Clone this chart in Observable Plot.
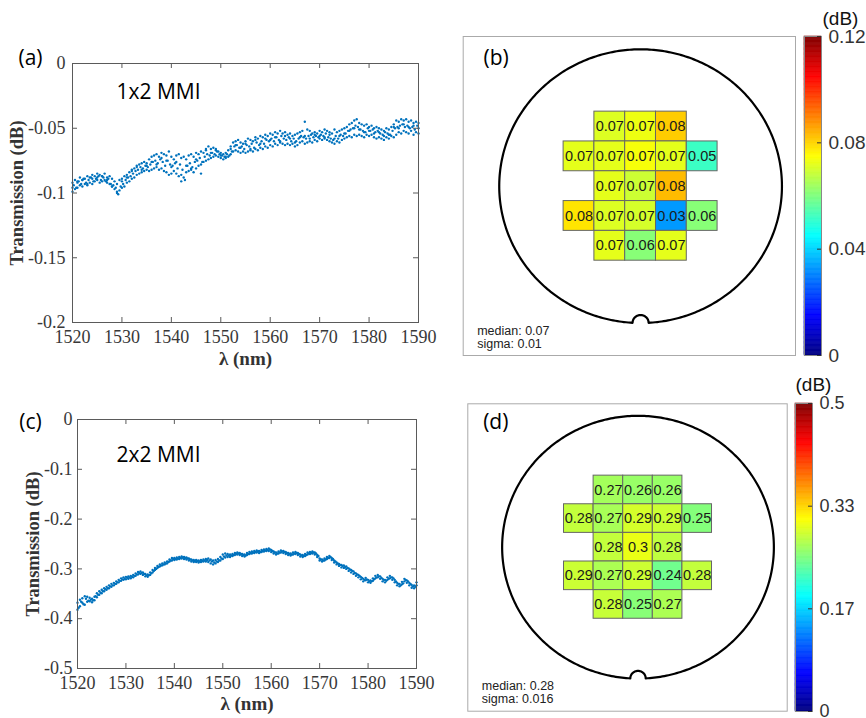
<!DOCTYPE html>
<html><head><meta charset="utf-8">
<script src="https://cdn.jsdelivr.net/npm/d3@7"></script>
<script src="https://cdn.jsdelivr.net/npm/@observablehq/plot@0.6"></script>
<style>
body{margin:0;background:#fff;}
#root{position:relative;width:866px;height:718px;overflow:hidden;background:#fff;}
</style></head><body><div id="root"></div>
<script>
// ---------- DATA ----------
const lambdaTicks = [1520, 1530, 1540, 1550, 1560, 1570, 1580, 1590];
const yTicksA = [0, -0.05, -0.1, -0.15, -0.2];
const yTicksC = [0, -0.1, -0.2, -0.3, -0.4, -0.5];

// (a) 1x2 MMI, two sweeps sampled every 0.5 nm from 1520 to 1590 nm
const mmi12Upper = [
-0.092,-0.090,-0.091,-0.088,-0.090,-0.089,-0.087,-0.088,-0.086,-0.087,
-0.085,-0.086,-0.087,-0.085,-0.088,-0.087,-0.089,-0.091,-0.093,-0.090,
-0.091,-0.087,-0.086,-0.084,-0.082,-0.081,-0.079,-0.078,-0.077,-0.076,
-0.077,-0.074,-0.072,-0.071,-0.070,-0.072,-0.069,-0.070,-0.071,-0.068,
-0.072,-0.074,-0.071,-0.070,-0.073,-0.072,-0.074,-0.071,-0.070,-0.072,
-0.069,-0.070,-0.068,-0.069,-0.066,-0.064,-0.066,-0.065,-0.067,-0.068,
-0.069,-0.070,-0.069,-0.067,-0.064,-0.061,-0.060,-0.059,-0.061,-0.062,
-0.060,-0.058,-0.059,-0.060,-0.057,-0.058,-0.056,-0.057,-0.055,-0.056,
-0.054,-0.055,-0.053,-0.054,-0.052,-0.054,-0.053,-0.055,-0.054,-0.056,
-0.055,-0.054,-0.053,-0.052,-0.045,-0.051,-0.052,-0.054,-0.053,-0.054,
-0.052,-0.053,-0.051,-0.052,-0.053,-0.054,-0.051,-0.053,-0.052,-0.051,
-0.050,-0.049,-0.047,-0.046,-0.044,-0.043,-0.046,-0.047,-0.048,-0.047,
-0.049,-0.048,-0.050,-0.049,-0.050,-0.051,-0.052,-0.050,-0.051,-0.049,
-0.047,-0.044,-0.045,-0.043,-0.044,-0.043,-0.045,-0.044,-0.046,-0.045,
-0.046];
const mmi12Lower = [
-0.099,-0.097,-0.096,-0.094,-0.095,-0.093,-0.094,-0.092,-0.093,-0.091,
-0.090,-0.092,-0.091,-0.090,-0.092,-0.093,-0.095,-0.097,-0.099,-0.098,
-0.096,-0.095,-0.092,-0.091,-0.089,-0.088,-0.086,-0.085,-0.084,-0.083,
-0.082,-0.083,-0.082,-0.081,-0.080,-0.082,-0.081,-0.083,-0.084,-0.086,
-0.085,-0.083,-0.085,-0.087,-0.086,-0.088,-0.084,-0.083,-0.082,-0.084,
-0.081,-0.079,-0.078,-0.076,-0.075,-0.074,-0.073,-0.072,-0.071,-0.072,
-0.073,-0.074,-0.073,-0.072,-0.070,-0.068,-0.067,-0.068,-0.069,-0.068,
-0.069,-0.068,-0.067,-0.068,-0.066,-0.067,-0.065,-0.066,-0.064,-0.065,
-0.063,-0.064,-0.062,-0.063,-0.061,-0.062,-0.063,-0.062,-0.063,-0.062,
-0.064,-0.063,-0.061,-0.060,-0.062,-0.061,-0.060,-0.061,-0.059,-0.060,
-0.058,-0.059,-0.058,-0.059,-0.060,-0.061,-0.062,-0.060,-0.061,-0.059,
-0.058,-0.057,-0.056,-0.057,-0.055,-0.056,-0.055,-0.056,-0.057,-0.055,
-0.056,-0.055,-0.057,-0.058,-0.057,-0.058,-0.059,-0.057,-0.058,-0.056,
-0.057,-0.055,-0.053,-0.054,-0.052,-0.053,-0.054,-0.052,-0.055,-0.053,
-0.054];
// (a) sweep sampled on the quarter points 1520.25 ... 1589.75 nm
const mmi12Quarter = [
-0.094,-0.096,-0.091,-0.093,-0.089,-0.092,-0.090,-0.088,-0.091,-0.089,
-0.087,-0.090,-0.088,-0.091,-0.089,-0.093,-0.094,-0.096,-0.101,-0.095,
-0.093,-0.090,-0.088,-0.087,-0.085,-0.083,-0.082,-0.080,-0.081,-0.079,
-0.080,-0.078,-0.076,-0.075,-0.077,-0.074,-0.076,-0.079,-0.075,-0.078,
-0.079,-0.077,-0.081,-0.078,-0.082,-0.090,-0.079,-0.077,-0.080,-0.076,
-0.075,-0.073,-0.076,-0.072,-0.070,-0.071,-0.069,-0.070,-0.068,-0.070,
-0.071,-0.072,-0.070,-0.071,-0.068,-0.064,-0.063,-0.065,-0.064,-0.066,
-0.063,-0.064,-0.062,-0.065,-0.061,-0.063,-0.060,-0.062,-0.059,-0.060,
-0.058,-0.060,-0.057,-0.059,-0.056,-0.058,-0.059,-0.057,-0.060,-0.058,
-0.060,-0.058,-0.056,-0.057,-0.058,-0.056,-0.055,-0.057,-0.056,-0.057,
-0.055,-0.056,-0.054,-0.057,-0.058,-0.059,-0.056,-0.058,-0.055,-0.056,
-0.054,-0.052,-0.051,-0.050,-0.048,-0.049,-0.051,-0.052,-0.053,-0.050,
-0.052,-0.051,-0.053,-0.052,-0.054,-0.055,-0.053,-0.054,-0.055,-0.052,
-0.050,-0.049,-0.048,-0.047,-0.049,-0.048,-0.050,-0.049,-0.051,-0.048];
// (a) third sweep, every 1 nm
const mmi12Mid = [
-0.096,-0.092,-0.090,-0.093,-0.089,-0.088,-0.087,-0.090,-0.095,-0.100,
-0.089,-0.088,-0.083,-0.080,-0.082,-0.079,-0.076,-0.078,-0.073,-0.075,
-0.080,-0.076,-0.091,-0.079,-0.081,-0.074,-0.085,-0.067,-0.069,-0.066,
-0.071,-0.072,-0.066,-0.063,-0.065,-0.062,-0.066,-0.059,-0.062,-0.058,
-0.059,-0.057,-0.060,-0.056,-0.058,-0.061,-0.057,-0.056,-0.058,-0.055,
-0.056,-0.057,-0.055,-0.058,-0.056,-0.054,-0.052,-0.050,-0.051,-0.053,
-0.052,-0.054,-0.053,-0.056,-0.055,-0.049,-0.050,-0.047,-0.049,-0.048,
-0.050];

// (c) 2x2 MMI, two sweeps sampled every 0.5 nm
const mmi22Upper = [
-0.368,-0.362,-0.359,-0.355,-0.356,-0.358,-0.360,-0.356,-0.349,-0.345,
-0.342,-0.339,-0.336,-0.333,-0.330,-0.328,-0.325,-0.322,-0.319,-0.317,
-0.316,-0.315,-0.314,-0.312,-0.309,-0.306,-0.305,-0.307,-0.310,-0.311,
-0.307,-0.302,-0.298,-0.294,-0.291,-0.289,-0.287,-0.285,-0.281,-0.278,
-0.278,-0.277,-0.276,-0.275,-0.276,-0.277,-0.279,-0.281,-0.282,-0.282,
-0.283,-0.282,-0.281,-0.280,-0.279,-0.281,-0.283,-0.282,-0.280,-0.276,
-0.271,-0.269,-0.270,-0.271,-0.270,-0.268,-0.267,-0.268,-0.270,-0.271,
-0.268,-0.266,-0.265,-0.264,-0.263,-0.264,-0.262,-0.261,-0.260,-0.259,
-0.262,-0.265,-0.267,-0.265,-0.263,-0.264,-0.266,-0.268,-0.269,-0.267,
-0.266,-0.268,-0.271,-0.272,-0.270,-0.267,-0.266,-0.265,-0.267,-0.272,
-0.279,-0.281,-0.279,-0.276,-0.274,-0.278,-0.283,-0.287,-0.290,-0.292,
-0.293,-0.295,-0.299,-0.302,-0.305,-0.309,-0.312,-0.316,-0.320,-0.318,
-0.322,-0.323,-0.319,-0.314,-0.312,-0.315,-0.320,-0.322,-0.317,-0.314,
-0.317,-0.322,-0.328,-0.330,-0.326,-0.320,-0.323,-0.328,-0.332,-0.333,
-0.327];
const mmi22Lower = [
-0.382,-0.375,-0.368,-0.372,-0.366,-0.365,-0.367,-0.363,-0.357,-0.352,
-0.349,-0.345,-0.342,-0.339,-0.336,-0.333,-0.330,-0.327,-0.324,-0.322,
-0.321,-0.320,-0.319,-0.317,-0.314,-0.311,-0.310,-0.312,-0.315,-0.316,
-0.312,-0.307,-0.302,-0.298,-0.295,-0.293,-0.291,-0.289,-0.285,-0.283,
-0.282,-0.281,-0.280,-0.279,-0.280,-0.281,-0.283,-0.285,-0.286,-0.286,
-0.287,-0.286,-0.285,-0.285,-0.286,-0.289,-0.291,-0.289,-0.286,-0.283,
-0.280,-0.277,-0.276,-0.276,-0.274,-0.272,-0.271,-0.272,-0.274,-0.275,
-0.272,-0.270,-0.269,-0.268,-0.267,-0.268,-0.266,-0.265,-0.264,-0.264,
-0.266,-0.269,-0.271,-0.269,-0.267,-0.268,-0.270,-0.272,-0.273,-0.271,
-0.270,-0.272,-0.275,-0.276,-0.274,-0.271,-0.270,-0.269,-0.271,-0.276,
-0.283,-0.285,-0.283,-0.280,-0.278,-0.282,-0.287,-0.291,-0.294,-0.297,
-0.298,-0.300,-0.304,-0.307,-0.310,-0.314,-0.317,-0.321,-0.325,-0.323,
-0.327,-0.328,-0.324,-0.319,-0.317,-0.320,-0.325,-0.327,-0.322,-0.319,
-0.322,-0.327,-0.333,-0.335,-0.331,-0.325,-0.328,-0.333,-0.338,-0.339,
-0.333];
// (c) sweep sampled on the quarter points 1520.25 ... 1589.75 nm
const mmi22Quarter = [
-0.378,-0.366,-0.371,-0.360,-0.364,-0.362,-0.363,-0.355,-0.352,-0.348,
-0.345,-0.341,-0.339,-0.335,-0.333,-0.330,-0.327,-0.324,-0.321,-0.320,
-0.318,-0.317,-0.316,-0.314,-0.311,-0.308,-0.308,-0.310,-0.313,-0.313,
-0.309,-0.304,-0.300,-0.296,-0.293,-0.291,-0.289,-0.286,-0.283,-0.280,
-0.280,-0.279,-0.278,-0.277,-0.278,-0.279,-0.281,-0.283,-0.284,-0.284,
-0.285,-0.284,-0.283,-0.282,-0.283,-0.285,-0.287,-0.285,-0.283,-0.279,
-0.275,-0.273,-0.273,-0.273,-0.272,-0.270,-0.269,-0.270,-0.272,-0.273,
-0.270,-0.268,-0.267,-0.266,-0.265,-0.266,-0.264,-0.263,-0.262,-0.261,
-0.264,-0.267,-0.269,-0.267,-0.265,-0.266,-0.268,-0.270,-0.271,-0.269,
-0.268,-0.270,-0.273,-0.274,-0.272,-0.269,-0.268,-0.267,-0.269,-0.274,
-0.281,-0.283,-0.281,-0.278,-0.276,-0.280,-0.285,-0.289,-0.292,-0.294,
-0.296,-0.298,-0.301,-0.304,-0.308,-0.311,-0.314,-0.318,-0.322,-0.321,
-0.325,-0.325,-0.321,-0.317,-0.315,-0.318,-0.322,-0.324,-0.320,-0.317,
-0.319,-0.325,-0.330,-0.333,-0.329,-0.322,-0.325,-0.330,-0.335,-0.336];

// wafer maps: die rows (top to bottom) and their die columns
const dieRowY = [2, 1, 0, -1, -2];
const dieRowCols = [[-1, 0, 1], [-2, -1, 0, 1, 2], [-1, 0, 1], [-2, -1, 0, 1, 2], [-1, 0, 1]];
const mapB = [
  [0.071, 0.073, 0.081],
  [0.072, 0.072, 0.074, 0.072, 0.052],
  [0.072, 0.069, 0.083],
  [0.078, 0.071, 0.070, 0.033, 0.061],
  [0.072, 0.061, 0.072]];
const mapD = [
  [0.268, 0.262, 0.262],
  [0.283, 0.270, 0.292, 0.287, 0.252],
  [0.283, 0.302, 0.281],
  [0.287, 0.272, 0.288, 0.243, 0.283],
  [0.285, 0.254, 0.272]];
const statsB = ["median: 0.07", "sigma: 0.01"];
const statsD = ["median: 0.28", "sigma: 0.016"];
const cbarTicksB = [0, 0.04, 0.08, 0.12];
const cbarTicksD = [0, 0.1667, 0.3333, 0.5];

// jet colormap stops
const jetStops = [0, 0.125, 0.375, 0.625, 0.875, 1];
const jetColors = ["#00007f", "#0000ff", "#00ffff", "#ffff00", "#ff0000", "#7f0000"];

// ---------- DRAWING ----------
const root = document.getElementById("root");
function place(node, left, top) {
  node.style.position = "absolute";
  node.style.left = left + "px";
  node.style.top = top + "px";
  root.appendChild(node);
}
const serif = "'Liberation Serif', 'DejaVu Serif', serif";
const sans = "'Liberation Sans', Arial, sans-serif";
const labelFont = "'Open Sans', 'Noto Sans', sans-serif";
const dotColor = "#0072BD";
const halfStep = (arr) => arr.map((v, i) => ({x: 1520 + 0.5 * i, y: v}));
const quarterStep = (arr) => arr.map((v, i) => ({x: 1520.25 + 0.5 * i, y: v}));
const oneStep = (arr) => arr.map((v, i) => ({x: 1520 + i, y: v}));

function spectrum(o) {
  const pw = o.width - o.ml - o.mr, ph = o.height - o.mt - o.mb;
  const ax = "#5a5a5a";
  return Plot.plot({
    width: o.width, height: o.height,
    marginTop: o.mt, marginRight: o.mr, marginBottom: o.mb, marginLeft: o.ml,
    x: {domain: [1520, 1590]}, y: {domain: o.yDomain},
    style: {fontFamily: serif, fontSize: "18px", color: "#383838", background: "white", overflow: "visible"},
    marks: [
      ...o.series.map(s => Plot.dot(s, {x: "x", y: "y", r: 1.2, fill: dotColor})),
      Plot.frame({stroke: ax}),
      Plot.tickX(lambdaTicks, {x: d => d, insetTop: ph - 5, stroke: ax}),
      Plot.tickX(lambdaTicks, {x: d => d, insetBottom: ph - 5, stroke: ax}),
      Plot.tickY(o.yTicks, {y: d => d, insetRight: pw - 5, stroke: ax}),
      Plot.tickY(o.yTicks, {y: d => d, insetLeft: pw - 5, stroke: ax}),
      Plot.axisX({ticks: lambdaTicks, tickSize: 0, tickPadding: 8, tickFormat: d => String(d), label: null}),
      Plot.axisY({ticks: o.yTicks, tickSize: 0, tickPadding: o.ypad, tickFormat: d => String(d), label: null}),
      Plot.text(["Transmission (dB)"], {frameAnchor: "left", dx: o.ylabDx, rotate: -90, textAnchor: "middle", lineAnchor: "middle", fontWeight: "bold", fontSize: 18.5, fill: "#333"}),
      Plot.text(["λ (nm)"], {frameAnchor: "bottom", dy: o.xlabDy, textAnchor: "middle", lineAnchor: "middle", fontWeight: "bold", fontSize: 19, fill: "#333"}),
      Plot.text([o.panel], {frameAnchor: "top-left", dx: o.panelDx, dy: o.panelDy, textAnchor: "middle", lineAnchor: "middle", fontFamily: labelFont, fontSize: 21, fill: "#000"}),
      Plot.text([o.name], {frameAnchor: "top-left", dx: o.nameDx, dy: o.nameDy, textAnchor: "start", lineAnchor: "middle", fontFamily: labelFont, fontSize: 21, fill: "#000"})
    ]
  });
}

function jet(max) {
  return {type: "linear", domain: jetStops.map(t => t * max), range: jetColors, interpolate: "rgb"};
}

function waferOutline(R, r) {
  const a = Math.asin(r / R);
  const pts = [];
  const n = 400;
  for (let i = 0; i <= n; i++) {
    const t = -Math.PI / 2 + a + (2 * Math.PI - 2 * a) * i / n;
    pts.push({x: R * Math.cos(t), y: R * Math.sin(t)});
  }
  for (let i = 0; i <= 30; i++) {
    const p = Math.PI - Math.PI * i / 30;
    pts.push({x: r * Math.cos(p), y: -R * Math.cos(a) + r * Math.sin(p)});
  }
  pts.push(pts[0]);
  return pts;
}

function waferMap(o) {
  const cells = [];
  dieRowCols.forEach((cols, r) => cols.forEach((c, j) => cells.push({col: c, row: dieRowY[r], v: o.values[r][j]})));
  return Plot.plot({
    width: o.width, height: o.height,
    marginTop: o.mt, marginRight: o.mr, marginBottom: o.mb, marginLeft: o.ml,
    x: {domain: o.xDomain, axis: null}, y: {domain: o.yDomain, axis: null},
    color: jet(o.max),
    style: {fontFamily: sans, fontSize: "14px", color: "#222", background: "white", overflow: "visible"},
    marks: [
      Plot.frame({stroke: "#aaaaaa"}),
      Plot.line(waferOutline(4.59, 0.26), {x: "x", y: "y", stroke: "#000", strokeWidth: 2.2}),
      Plot.rect(cells, {x1: d => d.col - 0.5, x2: d => d.col + 0.5, y1: d => d.row - 0.5, y2: d => d.row + 0.5, fill: "v", stroke: "#666", strokeWidth: 1}),
      Plot.text(cells, {x: "col", y: "row", text: d => String(+d.v.toFixed(2)), fontSize: 14.5, fill: "#1a1a1a"}),
      Plot.text([o.panel], {frameAnchor: "top-left", dx: o.panelDx, dy: o.panelDy, textAnchor: "middle", lineAnchor: "middle", fontFamily: labelFont, fontSize: 21, fill: "#000"}),
      Plot.text([o.stats[0]], {frameAnchor: "bottom-left", dx: o.statsDx, dy: -25, textAnchor: "start", lineAnchor: "middle", fontSize: 12.5, fill: "#222"}),
      Plot.text([o.stats[1]], {frameAnchor: "bottom-left", dx: o.statsDx, dy: -12, textAnchor: "start", lineAnchor: "middle", fontSize: 12.5, fill: "#222"})
    ]
  });
}

function colorbar(o) {
  const N = 256;
  const steps = d3.range(N).map(i => ({y1: i * o.max / N, y2: (i + 1) * o.max / N, v: (i + 0.5) * o.max / N}));
  const bw = o.width - o.ml - o.mr;
  return Plot.plot({
    width: o.width, height: o.height,
    marginTop: o.mt, marginRight: o.mr, marginBottom: o.mb, marginLeft: o.ml,
    x: {domain: [0, 1], axis: null}, y: {domain: [0, o.max], axis: null},
    color: jet(o.max),
    style: {fontFamily: sans, fontSize: o.fontSize + "px", color: "#333", background: "transparent", overflow: "visible"},
    marks: [
      Plot.rect(steps, {x1: d => 0, x2: d => 1, y1: "y1", y2: "y2", fill: "v", stroke: "v", strokeWidth: 0.6}),
      Plot.frame({stroke: "#888"}),
      Plot.tickY(o.ticks, {y: d => d, insetLeft: bw - 4, stroke: "#333"}),
      Plot.axisY({anchor: "right", ticks: o.ticks, tickSize: 0, tickPadding: 7, tickFormat: d3.format(".2~f"), label: null, fontSize: o.fontSize}),
      Plot.text(["(dB)"], {frameAnchor: "top-left", dx: o.unitDx, dy: o.unitDy, textAnchor: "start", lineAnchor: "middle", fontSize: 19, fill: "#111"})
    ]
  });
}

// (a)
place(spectrum({
  width: 440, height: 340, mt: 33, mr: 22, mb: 48, ml: 72,
  yDomain: [-0.2, 0], yTicks: yTicksA, ypad: 7,
  series: [halfStep(mmi12Upper), halfStep(mmi12Lower), quarterStep(mmi12Quarter), oneStep(mmi12Mid)],
  panel: "(a)", panelDx: -42, panelDy: -5,
  name: "1x2 MMI", nameDx: 44, nameDy: 29, ylabDx: -55, xlabDy: 36
}), 0, 30);

// (c)
place(spectrum({
  width: 440, height: 318, mt: 19, mr: 24, mb: 50, ml: 77,
  yDomain: [-0.5, 0], yTicks: yTicksC, ypad: 5,
  series: [halfStep(mmi22Upper), halfStep(mmi22Lower), quarterStep(mmi22Quarter)],
  panel: "(c)", panelDx: -47, panelDy: 3,
  name: "2x2 MMI", nameDx: 39, nameDy: 36, ylabDx: -44, xlabDy: 35
}), 0, 400);

// (b)
place(waferMap({
  width: 350, height: 330, mt: 6, mr: 5, mb: 5, ml: 12.7,
  xDomain: [-5.76, 5.03], yDomain: [-5.68, 5.02],
  values: mapB, max: 0.12, panel: "(b)", panelDx: 33, panelDy: 22, stats: statsB, statsDx: 14
}), 450, 30);
place(colorbar({
  width: 66, height: 365, mt: 36, mr: 45, mb: 10, ml: 4,
  max: 0.12, ticks: cbarTicksB, fontSize: 19, unitDx: 18, unitDy: -18
}), 800, 0);

// (d)
place(waferMap({
  width: 345, height: 325, mt: 13.3, mr: 8.3, mb: 4.3, ml: 17.3,
  xDomain: [-5.75, 5.04], yDomain: [-5.73, 5.01],
  values: mapD, max: 0.5, panel: "(d)", panelDx: 28, panelDy: 18, stats: statsD, statsDx: 14
}), 450, 390);
place(colorbar({
  width: 76, height: 348, mt: 33, mr: 54, mb: 7, ml: 5,
  max: 0.5, ticks: cbarTicksD, fontSize: 18, unitDx: 0, unitDy: -19
}), 790, 370);
</script></body></html>
